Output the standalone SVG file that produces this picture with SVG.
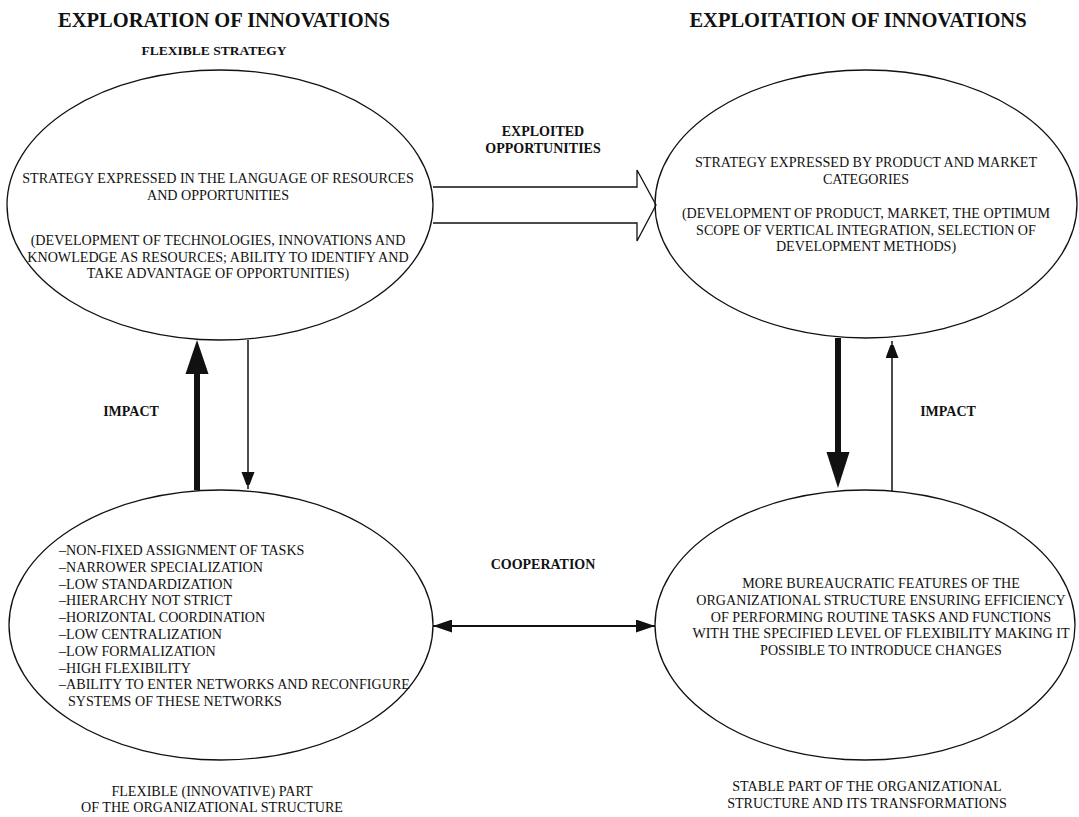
<svg xmlns="http://www.w3.org/2000/svg" width="1079" height="817" viewBox="0 0 1079 817">
<style>
text{font-family:"Liberation Serif","Times New Roman",serif;fill:#111}
.title{font-size:20.5px;font-weight:bold}
.lbl{font-size:14px;font-weight:bold}
.t{font-size:14.1px}
.c{text-anchor:middle}
.ell{fill:none;stroke:#111;stroke-width:1.3}
.ln{stroke:#111;fill:none}
</style>
<defs>
<marker id="thin" markerWidth="13" markerHeight="17" refX="17" refY="6.5" orient="auto" markerUnits="userSpaceOnUse"><path d="M0,0 L17,6.5 L0,13 Z" fill="#111"/></marker>
<marker id="coop" markerWidth="19" markerHeight="13" refX="19" refY="6.5" orient="auto-start-reverse" markerUnits="userSpaceOnUse"><path d="M0,0 L19,6.5 L0,13 Z" fill="#111"/></marker>
</defs>
<rect width="1079" height="817" fill="#fff"/>
<text class="title c" x="224" y="27">EXPLORATION OF INNOVATIONS</text>
<text class="title c" x="858" y="27">EXPLOITATION OF INNOVATIONS</text>
<text class="lbl c" x="214" y="55" style="font-size:13.5px">FLEXIBLE STRATEGY</text>

<g id="node-tl">
<ellipse class="ell" cx="220" cy="205" rx="213" ry="135"/>
<text class="t c" x="218" y="183">STRATEGY EXPRESSED IN THE LANGUAGE OF RESOURCES</text>
<text class="t c" x="218" y="200">AND OPPORTUNITIES</text>
<text class="t c" x="218" y="245">(DEVELOPMENT OF TECHNOLOGIES, INNOVATIONS AND</text>
<text class="t c" x="218" y="262">KNOWLEDGE AS RESOURCES; ABILITY TO IDENTIFY AND</text>
<text class="t c" x="218" y="278">TAKE ADVANTAGE OF OPPORTUNITIES)</text>
</g>

<g id="node-tr">
<ellipse class="ell" cx="866" cy="204" rx="211" ry="134"/>
<text class="t c" x="866" y="167">STRATEGY EXPRESSED BY PRODUCT AND MARKET</text>
<text class="t c" x="866" y="184">CATEGORIES</text>
<text class="t c" x="866" y="218">(DEVELOPMENT OF PRODUCT, MARKET, THE OPTIMUM</text>
<text class="t c" x="866" y="235">SCOPE OF VERTICAL INTEGRATION, SELECTION OF</text>
<text class="t c" x="866" y="251">DEVELOPMENT METHODS)</text>
</g>

<g id="node-bl">
<ellipse class="ell" cx="221" cy="625" rx="212" ry="135"/>
<text class="t" x="59" y="555">–NON-FIXED ASSIGNMENT OF TASKS</text>
<text class="t" x="59" y="572">–NARROWER SPECIALIZATION</text>
<text class="t" x="59" y="589">–LOW STANDARDIZATION</text>
<text class="t" x="59" y="605">–HIERARCHY NOT STRICT</text>
<text class="t" x="59" y="622">–HORIZONTAL COORDINATION</text>
<text class="t" x="59" y="639">–LOW CENTRALIZATION</text>
<text class="t" x="59" y="656">–LOW FORMALIZATION</text>
<text class="t" x="59" y="673">–HIGH FLEXIBILITY</text>
<text class="t" x="59" y="689">–ABILITY TO ENTER NETWORKS AND RECONFIGURE</text>
<text class="t" x="68" y="706">SYSTEMS OF THESE NETWORKS</text>
</g>

<g id="node-br">
<ellipse class="ell" cx="865" cy="625" rx="210" ry="135"/>
<text class="t c" x="881" y="588">MORE BUREAUCRATIC FEATURES OF THE</text>
<text class="t c" x="881" y="605">ORGANIZATIONAL STRUCTURE ENSURING EFFICIENCY</text>
<text class="t c" x="881" y="622">OF PERFORMING ROUTINE TASKS AND FUNCTIONS</text>
<text class="t c" x="881" y="638">WITH THE SPECIFIED LEVEL OF FLEXIBILITY MAKING IT</text>
<text class="t c" x="881" y="655">POSSIBLE TO INTRODUCE CHANGES</text>
</g>

<g id="connectors">
<path class="ln" stroke-width="1.3" d="M433,187 H637 V170 L656,205 L637,241 V223 H433"/>
<line class="ln" x1="197" y1="490" x2="197" y2="372" stroke-width="6"/>
<path d="M185.5,374 L197,340 L208.5,374 Z" fill="#111"/>
<line class="ln" x1="248" y1="340" x2="248" y2="489" stroke-width="1.5" marker-end="url(#thin)"/>
<line class="ln" x1="838" y1="338" x2="838" y2="455" stroke-width="6"/>
<path d="M826.5,452 L838,488 L849.5,452 Z" fill="#111"/>
<line class="ln" x1="892" y1="491" x2="892" y2="341" stroke-width="1.5" marker-end="url(#thin)"/>
<line class="ln" x1="433" y1="626" x2="655" y2="626" stroke-width="2.2" marker-start="url(#coop)" marker-end="url(#coop)"/>
<text class="lbl c" x="543" y="136">EXPLOITED</text>
<text class="lbl c" x="543" y="153">OPPORTUNITIES</text>
<text class="lbl c" x="131" y="416">IMPACT</text>
<text class="lbl c" x="948" y="416">IMPACT</text>
<text class="lbl c" x="543" y="569">COOPERATION</text>
</g>

<g id="captions">
<text class="t c" x="212" y="796">FLEXIBLE (INNOVATIVE) PART</text>
<text class="t c" x="212" y="812">OF THE ORGANIZATIONAL STRUCTURE</text>
<text class="t c" x="867" y="791">STABLE PART OF THE ORGANIZATIONAL</text>
<text class="t c" x="867" y="808">STRUCTURE AND ITS TRANSFORMATIONS</text>
</g>
</svg>
